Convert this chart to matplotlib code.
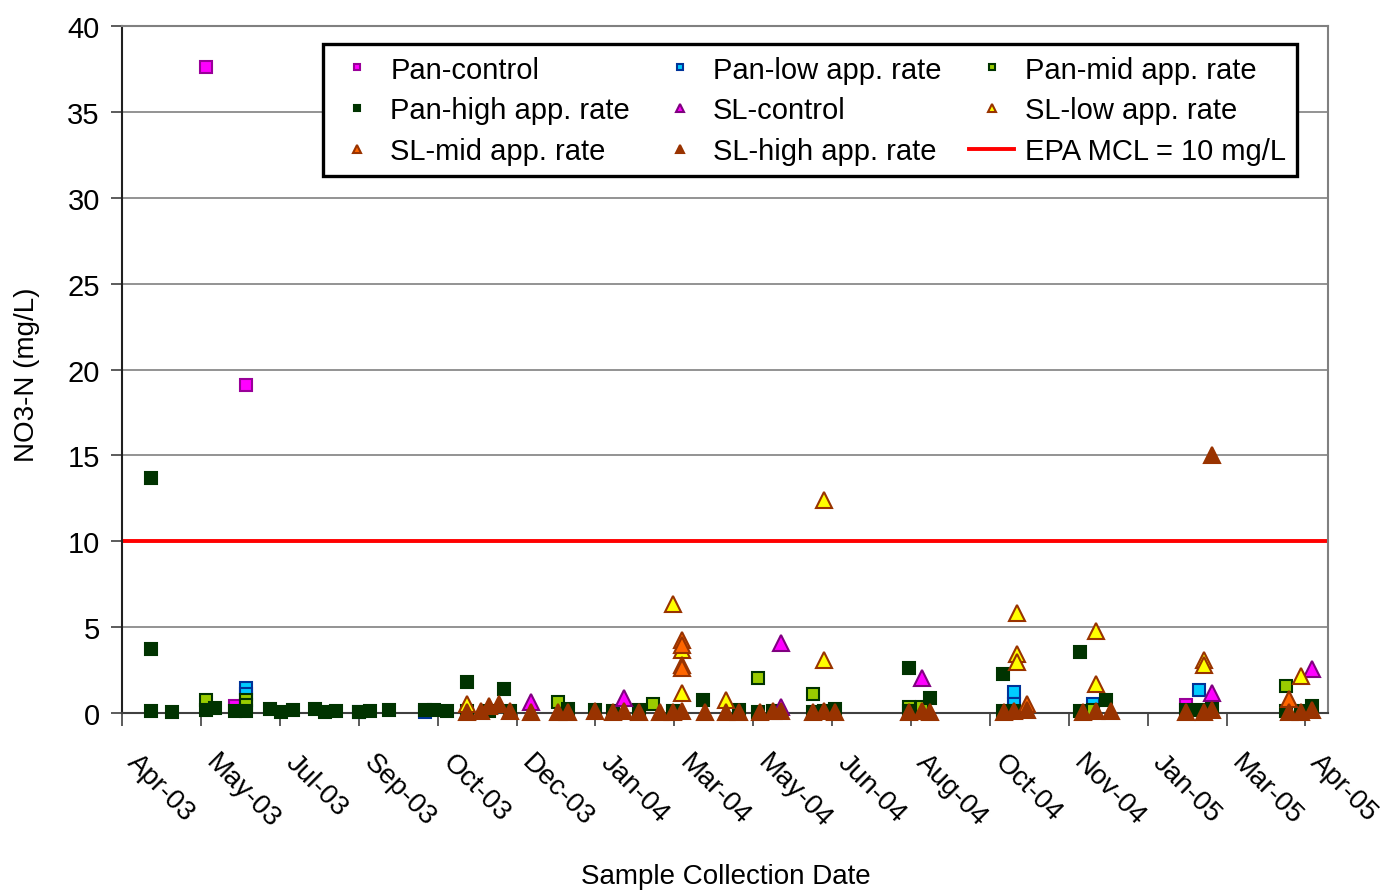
import pandas as pd
import numpy as np
import matplotlib
matplotlib.use("Agg")
import matplotlib.pyplot as plt

FONT = ['Liberation Sans', 'DejaVu Sans']

# Axis setup (Excel date axis, 49-day major unit)
AXIS_START = "2003-04-12"
AXIS_END = "2005-04-30"
TICK_STEP_DAYS = 49
TICK_LABELS = ["Apr-03", "May-03", "Jul-03", "Sep-03", "Oct-03", "Dec-03", "Jan-04", "Mar-04",
               "May-04", "Jun-04", "Aug-04", "Oct-04", "Nov-04", "Jan-05", "Mar-05", "Apr-05"]
EPA_MCL = 10

# Data (date, NO3-N mg/L)
pan_control_dates = ["2003-06-03", "2003-06-28", "2003-06-21", "2005-02-01"]
pan_control_vals = [37.6, 19.1, 0.4, 0.45]

pan_low_dates = ["2003-06-28", "2003-06-28", "2003-09-06", "2003-10-17", "2004-10-17", "2004-10-17",
                 "2004-12-05", "2005-02-09"]
pan_low_vals = [1.45, 1.1, 0.05, 0.05, 1.2, 0.5, 0.5, 1.35]

pan_mid_dates = ["2003-06-03", "2003-06-28", "2003-06-28", "2004-01-08", "2004-03-07", "2004-05-11",
                 "2004-06-14", "2004-08-13", "2004-08-21", "2004-12-05", "2005-04-04"]
pan_mid_vals = [0.75, 0.75, 0.45, 0.65, 0.55, 2.05, 1.1, 0.35, 0.35, 0.15, 1.55]

pan_high_dates = ["2003-04-30", "2003-04-30", "2003-04-30", "2003-05-13", "2003-06-03", "2003-06-09",
                  "2003-06-21", "2003-06-28", "2003-07-13", "2003-07-20", "2003-07-27", "2003-08-10",
                  "2003-08-16", "2003-08-23", "2003-09-06", "2003-09-13", "2003-09-25", "2003-10-17",
                  "2003-10-23", "2003-10-31", "2003-11-12", "2003-11-12", "2003-11-26", "2003-12-05",
                  "2003-12-09", "2004-01-14", "2004-01-31", "2004-02-11", "2004-02-27", "2004-03-19",
                  "2004-04-07", "2004-04-29", "2004-05-11", "2004-05-20", "2004-06-14", "2004-06-21",
                  "2004-06-28", "2004-08-13", "2004-08-13", "2004-08-26", "2004-10-10", "2004-10-10",
                  "2004-10-17", "2004-11-27", "2004-11-27", "2004-12-13", "2005-02-01", "2005-02-09",
                  "2005-02-17", "2005-04-04", "2005-04-13", "2005-04-20"]
pan_high_vals = [13.7, 3.7, 0.1, 0.05, 0.2, 0.3,
                 0.1, 0.1, 0.25, 0.05, 0.15, 0.25,
                 0.05, 0.1, 0.05, 0.1, 0.2, 0.2,
                 0.15, 0.1, 1.8, 0.1, 0.1, 1.4,
                 0.1, 0.25, 0.15, 0.1, 0.15, 0.1,
                 0.75, 0.2, 0.05, 0.1, 0.05, 0.1,
                 0.25, 2.6, 0.1, 0.85, 2.25, 0.1,
                 0.1, 3.55, 0.1, 0.75, 0.2, 0.15,
                 0.4, 0.1, 0.1, 0.4]

sl_control_dates = ["2003-12-22", "2004-02-18", "2004-05-25", "2004-05-25", "2004-08-21", "2005-02-17",
                    "2005-04-20"]
sl_control_vals = [0.65, 0.9, 4.05, 0.35, 2.05, 1.15, 2.55]

sl_low_dates = ["2003-11-12", "2004-03-19", "2004-03-25", "2004-03-25", "2004-04-21", "2004-06-21",
                "2004-06-21", "2004-10-19", "2004-10-19", "2004-10-19", "2004-12-07", "2004-12-07",
                "2005-02-12", "2005-02-12", "2005-04-13"]
sl_low_vals = [0.55, 6.35, 3.65, 1.15, 0.75, 12.4,
               3.1, 5.8, 3.45, 2.95, 4.75, 1.7,
               3.1, 2.8, 2.15]

sl_mid_dates = ["2004-03-25", "2004-03-25", "2004-03-25", "2004-03-25", "2004-10-25", "2005-04-06"]
sl_mid_vals = [4.25, 3.95, 2.8, 2.6, 0.55, 0.8]

sl_high_dates = ["2003-11-12", "2003-11-21", "2003-11-26", "2003-12-02", "2003-12-09", "2003-12-22",
                 "2004-01-08", "2004-01-14", "2004-01-31", "2004-02-11", "2004-02-18", "2004-02-27",
                 "2004-03-11", "2004-03-19", "2004-03-25", "2004-04-08", "2004-04-21", "2004-04-29",
                 "2004-05-12", "2004-05-20", "2004-05-25", "2004-06-14", "2004-06-21", "2004-06-28",
                 "2004-08-13", "2004-08-21", "2004-08-26", "2004-10-11", "2004-10-17", "2004-10-25",
                 "2004-11-29", "2004-12-07", "2004-12-16", "2005-02-01", "2005-02-12", "2005-02-17",
                 "2005-02-17", "2005-04-06", "2005-04-13", "2005-04-20"]
sl_high_vals = [0.05, 0.1, 0.4, 0.5, 0.1, 0.05,
                0.05, 0.05, 0.1, 0.05, 0.1, 0.05,
                0.05, 0.05, 0.1, 0.05, 0.05, 0.05,
                0.05, 0.1, 0.1, 0.05, 0.1, 0.05,
                0.05, 0.1, 0.05, 0.05, 0.1, 0.2,
                0.05, 0.1, 0.1, 0.05, 0.05, 0.15,
                15.0, 0.05, 0.05, 0.2]

# (label, dates, values, marker, face, edge, size)
series = [
    ("Pan-control", pan_control_dates, pan_control_vals, "s", "#FF00FF", "#990099", 9),
    ("Pan-low app. rate", pan_low_dates, pan_low_vals, "s", "#00CCFF", "#003399", 9),
    ("Pan-mid app. rate", pan_mid_dates, pan_mid_vals, "s", "#99CC00", "#003300", 9),
    ("Pan-high app. rate", pan_high_dates, pan_high_vals, "s", "#003300", "#003300", 9),
    ("SL-control", sl_control_dates, sl_control_vals, "^", "#FF00FF", "#800080", 11),
    ("SL-low app. rate", sl_low_dates, sl_low_vals, "^", "#FFFF00", "#993300", 11),
    ("SL-mid app. rate", sl_mid_dates, sl_mid_vals, "^", "#FF6600", "#993300", 11),
    ("SL-high app. rate", sl_high_dates, sl_high_vals, "^", "#993300", "#993300", 11),
]

fig = plt.figure(figsize=(13.84, 8.95), dpi=100)
ax = fig.add_axes([0.0882, 0.2022, 0.8713, 0.7676])

handles = []
for label, dates, vals, marker, face, edge, size in series:
    h, = ax.plot(pd.to_datetime(dates), vals, linestyle="none", marker=marker, markersize=size,
                 markerfacecolor=face, markeredgecolor=edge, markeredgewidth=1.5, label=label,
                 zorder=3, clip_on=False)
    handles.append(h)

mcl = ax.axhline(EPA_MCL, color="#FF0000", linewidth=2.8, zorder=2, label="EPA MCL = 10 mg/L")
handles.append(mcl)

start = pd.Timestamp(AXIS_START)
ax.set_xlim(start, pd.Timestamp(AXIS_END))
ax.set_ylim(0, 40)
tick_dates = [start + pd.Timedelta(days=TICK_STEP_DAYS * i) for i in range(len(TICK_LABELS))]
ax.set_xticks(tick_dates)
ax.set_xticklabels(TICK_LABELS, rotation=-45, ha="left", va="bottom", rotation_mode="anchor",
                   family=FONT, fontsize=20)

ax.set_yticks(np.arange(0, 41, 5))
ax.set_yticklabels([str(v) for v in range(0, 41, 5)], family=FONT, fontsize=21)

ax.yaxis.grid(True, color="#808080", linewidth=1.2)
ax.set_axisbelow(True)
ax.tick_params(axis="x", direction="out", length=9, width=1.2, color="#404040", pad=30)
ax.tick_params(axis="y", direction="out", length=8, width=1.2, color="#404040", pad=8)

for side in ["top", "right"]:
    ax.spines[side].set_color("#808080")
    ax.spines[side].set_linewidth(1.5)
ax.spines["left"].set_color("#202020")
ax.spines["left"].set_linewidth(1.5)
ax.spines["bottom"].set_color("#404040")
ax.spines["bottom"].set_linewidth(1.5)

ax.set_ylabel("NO3-N (mg/L)", family=FONT, fontsize=20)
ax.yaxis.set_label_coords(-0.068, 0.494)
ax.set_xlabel("Sample Collection Date", family=FONT, fontsize=20)
ax.xaxis.set_label_coords(0.501, -0.218)

# legend is filled row by row in the original
row_order = [0, 3, 6, 1, 4, 7, 2, 5, 8]
leg = ax.legend(handles=[handles[i] for i in row_order], ncol=3, loc="upper left",
                bbox_to_anchor=(0.1667, 0.9738), prop={"family": FONT, "size": 21},
                frameon=True, fancybox=False, edgecolor="black", markerscale=0.55,
                handlelength=1.55, handletextpad=0.35, columnspacing=0.95, labelspacing=0.43,
                borderpad=0.4, borderaxespad=0)
leg.get_frame().set_linewidth(2.4)
leg.get_frame().set_alpha(1)
leg.set_zorder(5)

fig.savefig("out.png", dpi=100)
